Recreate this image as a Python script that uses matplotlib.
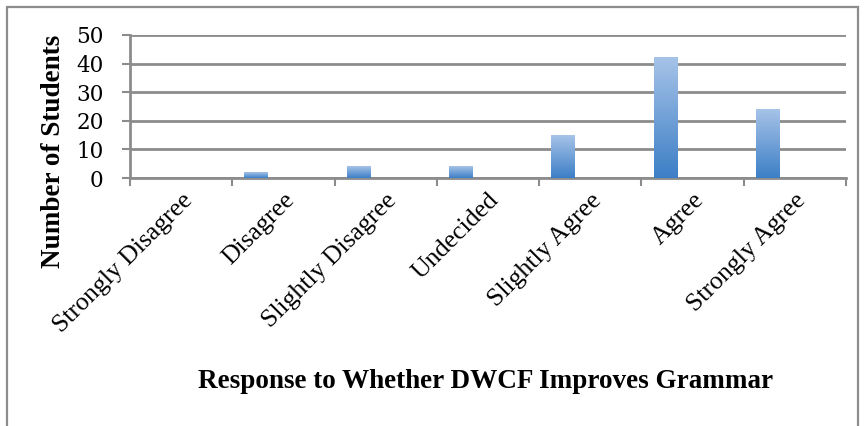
import numpy as np
import matplotlib
matplotlib.use("Agg")
import matplotlib.pyplot as plt
from matplotlib.colors import LinearSegmentedColormap
from matplotlib.patches import Rectangle

categories = ["Strongly Disagree", "Disagree", "Slightly Disagree", "Undecided",
              "Slightly Agree", "Agree", "Strongly Agree"]
counts = [0, 2, 4, 4, 15, 42, 24]
y_ticks = [0, 10, 20, 30, 40, 50]

serif = ["Liberation Serif", "DejaVu Serif"]

fig = plt.figure(figsize=(8.66, 4.26), dpi=100)
ax = fig.add_axes([0.150, 0.582, 0.827, 0.336])

# outer chart frame
fig.patches.append(Rectangle((7 / 866, -0.05), 851 / 866, 1 - 7 / 426 + 0.05,
                             transform=fig.transFigure, fill=False,
                             edgecolor="#8c8c8c", linewidth=1.6))

grad = LinearSegmentedColormap.from_list("bar", ["#3d7fc6", "#a6c3e8"])
width = 0.23
offset = -0.265  # bars sit in the left part of each category slot
x = np.arange(len(categories))
for xi, v in zip(x, counts):
    if v <= 0:
        continue
    c = xi + offset
    ax.imshow(np.linspace(0, 1, 100).reshape(-1, 1), cmap=grad, origin="lower",
              extent=(c - width / 2, c + width / 2, 0, v),
              aspect="auto", zorder=3, interpolation="bicubic")

ax.set_xlim(-0.5, len(categories) - 0.5)
ax.set_ylim(0, 50)
ax.set_yticks(y_ticks)
ax.set_yticklabels([str(t) for t in y_ticks], fontsize=15.5, family="DejaVu Serif")
ax.yaxis.grid(True, color="#8c8c8c", linewidth=2.0, zorder=0)
ax.set_axisbelow(True)

ax.set_xticks(np.arange(len(categories) + 1) - 0.5, minor=False)
ax.set_xticklabels([])
ax.set_xticks(x, minor=True)
ax.set_xticklabels(categories, minor=True, rotation=45, ha="right",
                   rotation_mode="anchor", fontsize=18.5, family=serif)
ax.tick_params(axis="x", which="minor", length=0, pad=8)
ax.tick_params(axis="x", which="major", length=6, width=1.5, color="#8c8c8c")
ax.tick_params(axis="y", length=6, width=1.5, color="#8c8c8c", pad=13)

for s in ["top", "right"]:
    ax.spines[s].set_visible(False)
for s in ["left", "bottom"]:
    ax.spines[s].set_color("#8c8c8c")
    ax.spines[s].set_linewidth(2.0)

ax.set_ylabel("Number of Students", fontsize=19.5, fontweight="bold", family=serif,
              va="center")
ax.yaxis.set_label_coords(-0.106, 0.185)
fig.text(486 / 866, 1 - 381 / 426, "Response to Whether DWCF Improves Grammar",
         ha="center", va="center", fontsize=19.5, fontweight="bold", family=serif)

fig.savefig("out.png", dpi=100)
